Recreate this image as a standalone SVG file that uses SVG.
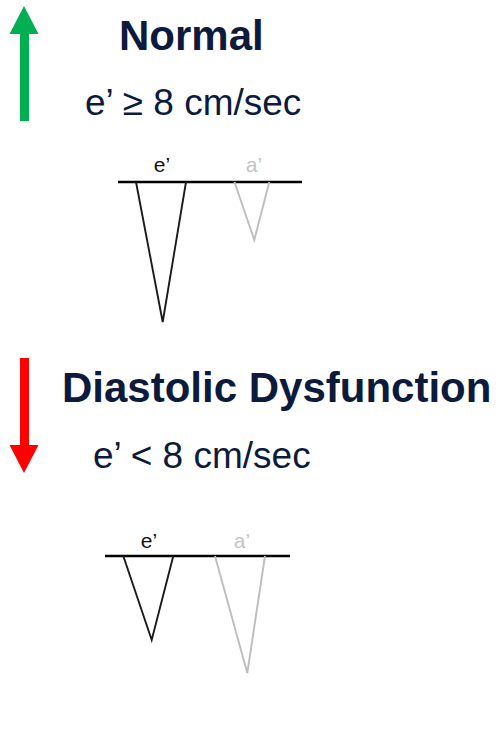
<svg xmlns="http://www.w3.org/2000/svg" width="499" height="736" viewBox="0 0 499 736">
<style>
.title{font-family:"Liberation Sans",Arial,sans-serif;font-weight:bold;font-size:42px;fill:#0c1a3c}
.sub{font-family:"Liberation Sans",Arial,sans-serif;font-size:37px;fill:#0c1a3c}
.axis{stroke:#000;stroke-width:2.6;fill:none}
.e{stroke:#1a1a1a;stroke-width:1.9;fill:none;stroke-linejoin:miter}
.a{stroke:#bdbdbd;stroke-width:1.9;fill:none}
.lbl{font-family:"Liberation Sans",Arial,sans-serif;font-size:21px;text-anchor:middle}
</style>
<rect width="499" height="736" fill="#fff"/>
<g id="normal">
  <polygon points="24,6 38.5,34 29,34 29,121 20,121 20,34 9.5,34" fill="#00b050"/>
  <text class="title" x="119" y="50">Normal</text>
  <text class="sub" x="85" y="115" font-size="38.5">e’ ≥ 8 cm/sec</text>
</g>
<g id="normal-plot">
  <line class="axis" x1="118" y1="182" x2="302" y2="182"/>
  <polyline class="e" points="136,182 162.7,322 186,182"/>
  <polyline class="a" points="234.5,182 254.3,240 269.3,182"/>
  <text class="lbl" x="162" y="172" fill="#111">e’</text>
  <text class="lbl" x="254" y="172" fill="#c4c4c4">a’</text>
</g>
<g id="dysfunction">
  <polygon points="20,358 29,358 29,445 38.5,445 24,473 9.5,445 20,445" fill="#ff0000"/>
  <text class="title" x="62" y="402">Diastolic Dysfunction</text>
  <text class="sub" x="93" y="468">e’ &lt; 8 cm/sec</text>
</g>
<g id="dysfunction-plot">
  <line class="axis" x1="105" y1="556" x2="290" y2="556"/>
  <polyline class="e" points="123.3,556 151.7,640 173.3,556"/>
  <polyline class="a" points="215,556 247.3,673 265,556"/>
  <text class="lbl" x="149" y="548" fill="#111">e’</text>
  <text class="lbl" x="242" y="548" fill="#c4c4c4">a’</text>
</g>
<g id="connectors"></g>
</svg>
